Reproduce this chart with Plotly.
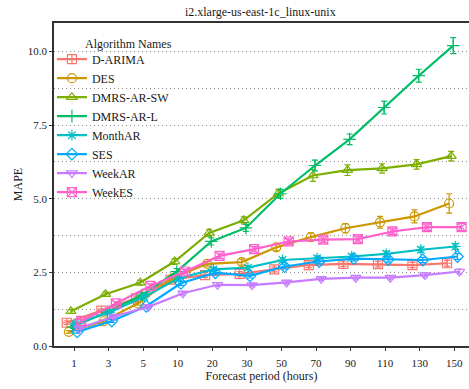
import plotly.graph_objects as go

# Forecast horizons (hours) shown as categories on the x axis
periods = ["1", "3", "5", "10", "20", "30", "50", "70", "90", "110", "130", "150"]

algorithms = ["D-ARIMA", "DES", "DMRS-AR-SW", "DMRS-AR-L",
              "MonthAR", "SES", "WeekAR", "WeekES"]

# Mean absolute percentage error per algorithm and horizon
d_arima    = [0.79, 1.20, 1.62, 2.25, 2.41, 2.45, 2.60, 2.75, 2.79, 2.78, 2.75, 2.81]
des        = [0.48, 0.84, 1.45, 2.30, 2.79, 2.85, 3.35, 3.70, 4.00, 4.20, 4.40, 4.84]
dmrs_ar_sw = [1.18, 1.76, 2.15, 2.87, 3.84, 4.27, 5.18, 5.79, 5.97, 6.03, 6.17, 6.45]
dmrs_ar_l  = [0.65, 1.16, 1.73, 2.53, 3.55, 4.01, 5.17, 6.13, 7.02, 8.10, 9.18, 10.20]
month_ar   = [0.75, 1.15, 1.67, 2.30, 2.60, 2.66, 2.92, 2.98, 3.04, 3.13, 3.27, 3.38]
ses        = [0.48, 0.85, 1.35, 2.13, 2.49, 2.38, 2.70, 2.87, 2.97, 2.94, 2.92, 3.04]
week_ar    = [0.60, 1.00, 1.33, 1.79, 2.08, 2.07, 2.16, 2.28, 2.32, 2.32, 2.41, 2.53]
week_es    = [0.85, 1.45, 2.04, 2.53, 3.06, 3.29, 3.55, 3.61, 3.63, 3.89, 4.04, 4.04]

# Half-widths of the error bars
err_d_arima    = [0.06, 0.06, 0.07, 0.08, 0.08, 0.08, 0.08, 0.09, 0.09, 0.09, 0.09, 0.10]
err_des        = [0.04, 0.05, 0.06, 0.08, 0.08, 0.10, 0.12, 0.14, 0.16, 0.20, 0.22, 0.33]
err_dmrs_ar_sw = [0.06, 0.07, 0.08, 0.10, 0.12, 0.12, 0.14, 0.20, 0.18, 0.16, 0.16, 0.16]
err_dmrs_ar_l  = [0.05, 0.06, 0.08, 0.10, 0.12, 0.12, 0.15, 0.18, 0.18, 0.22, 0.22, 0.27]
err_month_ar   = [0.05, 0.06, 0.06, 0.07, 0.07, 0.07, 0.08, 0.08, 0.08, 0.09, 0.09, 0.10]
err_ses        = [0.04, 0.05, 0.06, 0.07, 0.07, 0.07, 0.08, 0.08, 0.08, 0.09, 0.09, 0.10]
err_week_ar    = [0.04, 0.05, 0.05, 0.06, 0.06, 0.06, 0.06, 0.06, 0.07, 0.07, 0.07, 0.08]
err_week_es    = [0.05, 0.06, 0.07, 0.08, 0.09, 0.09, 0.09, 0.10, 0.10, 0.11, 0.11, 0.12]

values = [d_arima, des, dmrs_ar_sw, dmrs_ar_l, month_ar, ses, week_ar, week_es]
errors = [err_d_arima, err_des, err_dmrs_ar_sw, err_dmrs_ar_l,
          err_month_ar, err_ses, err_week_ar, err_week_es]

colors = ["#F8766D", "#CD9600", "#7CAE00", "#00BE67",
          "#00BFC4", "#00A9FF", "#C77CFF", "#FF61CC"]
symbols = ["square-cross-open", "circle-open", "triangle-up-open", "cross-thin-open",
           "asterisk-open", "diamond-open", "triangle-down-open", "square-x-open"]

FONT = "Liberation Serif"
dodge = 0.06  # horizontal offset between series within a category

fig = go.Figure()
n = len(algorithms)
for i, (name, ys, es) in enumerate(zip(algorithms, values, errors)):
    xs = [k + 1 + (i - (n - 1) / 2) * dodge for k in range(len(periods))]
    fig.add_trace(go.Scatter(
        x=xs, y=ys, name=name, mode="lines+markers",
        line=dict(color=colors[i], width=2.2),
        marker=dict(symbol=symbols[i], size=9, color=colors[i],
                    line=dict(color=colors[i], width=1.2)),
        error_y=dict(type="data", array=es, visible=True,
                     color=colors[i], thickness=1.2, width=3),
    ))

fig.update_layout(
    width=469, height=389,
    margin=dict(l=54, r=0, t=23, b=43),
    paper_bgcolor="white", plot_bgcolor="white",
    font=dict(family=FONT, size=12, color="#1a1a1a"),
    title=dict(text="i2.xlarge-us-east-1c_linux-unix", x=0.555, xanchor="center",
               y=0.97, yanchor="middle", font=dict(family=FONT, size=12)),
    showlegend=True,
    legend=dict(x=-0.005, y=0.933, xanchor="left", yanchor="top",
                bgcolor="rgba(255,255,255,0)", font=dict(family=FONT, size=12),
                itemwidth=30, tracegroupgap=0),
    annotations=[dict(text="Algorithm Names", xref="paper", yref="paper",
                      x=0.0706, y=0.935, xanchor="left", yanchor="middle",
                      showarrow=False, font=dict(family=FONT, size=12))],
)

fig.update_xaxes(
    range=[0.42, 12.425],
    tickmode="array", tickvals=list(range(1, len(periods) + 1)), ticktext=periods,
    showgrid=False, zeroline=False,
    showline=True, linecolor="#333333", linewidth=1.5, mirror=True,
    ticks="outside", ticklen=3, tickcolor="#333333", ticklabelstandoff=3,
    tickfont=dict(family=FONT, size=11),
    title=dict(text="Forecast period (hours)", font=dict(family=FONT, size=12), standoff=4),
)

fig.update_yaxes(
    range=[0, 10.97], dtick=2.5, tick0=0, tickformat=".1f",
    showgrid=True, gridcolor="#8c8c8c", gridwidth=1, griddash="1px,3px",
    minor=dict(dtick=1.25, showgrid=True, gridcolor="#8c8c8c",
               gridwidth=1, griddash="1px,3px"),
    zeroline=False,
    showline=True, linecolor="#333333", linewidth=1.5,
    ticks="outside", ticklen=3, tickcolor="#333333",
    tickfont=dict(family=FONT, size=11),
    title=dict(text="MAPE", font=dict(family=FONT, size=12), standoff=3),
)

fig.write_html("out.html")
